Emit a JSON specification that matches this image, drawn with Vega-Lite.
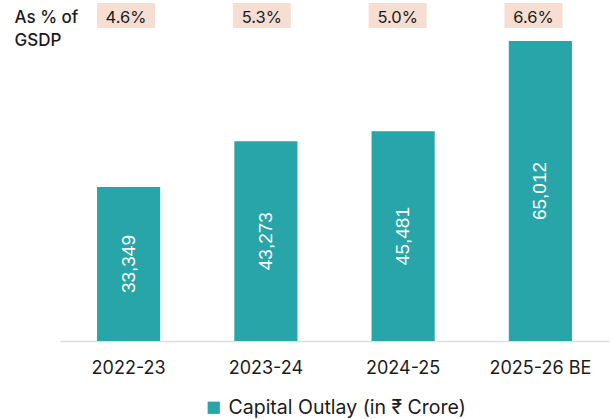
{
  "$schema": "https://vega.github.io/schema/vega-lite/v6.json",
  "padding": {"left": 14, "top": 3, "right": 1, "bottom": 0},
  "background": "white",
  "config": {"view": {"stroke": null}, "font": "Inter",
             "legend": {"layout": {"bottom": {"anchor": "middle"}}}},
  "datasets": {
    "rows": [
      {"year": "2022-23", "outlay": 33349, "pct": "4.6%"},
      {"year": "2023-24", "outlay": 43273, "pct": "5.3%"},
      {"year": "2024-25", "outlay": 45481, "pct": "5.0%"},
      {"year": "2025-26 BE", "outlay": 65012, "pct": "6.6%"}
    ]
  },
  "data": {"name": "rows"},
  "spacing": 13,
  "bounds": "flush",
  "resolve": {"scale": {"color": "independent"}},
  "vconcat": [
    {
      "width": 549,
      "height": 25,
      "encoding": {
        "x": {"field": "year", "type": "nominal", "sort": null, "axis": null,
              "scale": {"paddingInner": 0.573, "paddingOuter": 0.3075, "align": 0.443}},
        "y": {"datum": "As % of|GSDP", "type": "nominal",
              "scale": {"type": "band", "paddingInner": 0, "paddingOuter": 0},
              "axis": {"title": null, "domain": false, "ticks": false, "tickSize": 0,
                       "labelPadding": 46, "labelAlign": "left", "labelBaseline": "alphabetic",
                       "labelOffset": 7.5, "labelFontSize": 17, "labelFontWeight": 500,
                       "labelColor": "#1b1b1b", "labelLineHeight": 23, "labelLimit": 0,
                       "labelExpr": "split(datum.label, '|')"}}
      },
      "layer": [
        {"mark": {"type": "rect", "color": "#F7DED3"}},
        {"mark": {"type": "text", "fontSize": 16.5, "color": "#1b1b1b", "dy": 2},
         "encoding": {"text": {"field": "pct"}}}
      ]
    },
    {
      "width": 549,
      "height": 300,
      "encoding": {
        "x": {"field": "year", "type": "nominal", "sort": null,
              "scale": {"paddingInner": 0.54, "paddingOuter": 0.27},
              "axis": {"title": null, "labelAngle": 0, "ticks": false, "tickSize": 0,
                       "labelPadding": 18, "labelFontSize": 18, "labelColor": "#1b1b1b",
                       "domainColor": "#dddddd", "domainWidth": 1.5}}
      },
      "layer": [
        {"mark": {"type": "bar"},
         "encoding": {
           "y": {"field": "outlay", "type": "quantitative",
                 "scale": {"domain": [0, 65012], "nice": false}, "axis": null},
           "color": {"datum": "Capital Outlay (in ₹ Crore)", "type": "nominal",
                     "scale": {"range": ["#27A5A8"]},
                     "legend": {"title": null, "orient": "bottom", "direction": "horizontal",
                                "symbolType": "square", "symbolSize": 150, "symbolStrokeWidth": 0,
                                "labelFontSize": 19.5, "labelColor": "#1b1b1b", "labelLimit": 400,
                                "labelOffset": 5, "offset": 21}}
         }},
        {"mark": {"type": "text", "angle": 270, "color": "white", "font": "Liberation Sans",
                  "fontSize": 19, "baseline": "middle", "align": "center"},
         "encoding": {
           "y": {"field": "outlay", "type": "quantitative",
                 "scale": {"domain": [0, 130024], "nice": false}, "axis": null},
           "text": {"field": "outlay", "type": "quantitative", "format": ","}
         }}
      ],
      "resolve": {"scale": {"y": "independent"}}
    }
  ]
}
